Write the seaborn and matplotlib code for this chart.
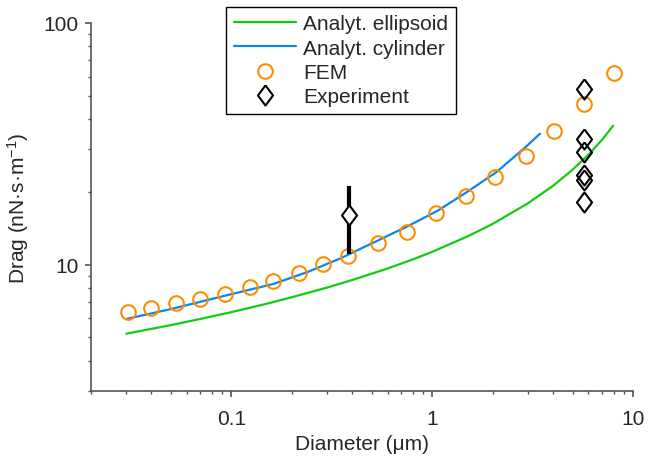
import numpy as np
import pandas as pd
import matplotlib
matplotlib.use("Agg")
import matplotlib.pyplot as plt
from matplotlib.ticker import NullFormatter, LogLocator
import seaborn as sns

# Data
ellipsoid_x = [0.030, 0.050, 0.070, 0.10, 0.15, 0.20, 0.30, 0.40, 0.60, 0.80,
               1.0, 1.5, 2.0, 3.0, 4.0, 5.0, 6.0, 7.0, 7.97]
ellipsoid_y = [5.18, 5.62, 5.96, 6.36, 6.89, 7.33, 8.04, 8.64, 9.64, 10.51,
               11.30, 13.09, 14.74, 17.95, 21.2, 24.7, 28.5, 32.8, 37.6]

cylinder_x = [0.030, 0.050, 0.100, 0.162, 0.240, 0.347, 0.501, 0.759, 1.072,
              1.486, 2.089, 2.931, 3.444]
cylinder_y = [5.96, 6.55, 7.55, 8.32, 9.33, 10.59, 12.25, 14.45, 16.77,
              19.95, 24.15, 30.76, 34.83]

fem_x = [0.0305, 0.0397, 0.0529, 0.0697, 0.0928, 0.124, 0.161, 0.217, 0.286,
         0.381, 0.538, 0.750, 1.05, 1.48, 2.06, 2.94, 4.06, 5.73, 8.0]
fem_y = [6.38, 6.64, 6.95, 7.22, 7.58, 8.11, 8.59, 9.27, 10.1,
         10.9, 12.3, 13.7, 16.3, 19.2, 23.0, 28.1, 35.6, 46.2, 62.1]

exp_x = [5.73, 5.73, 5.73, 5.73, 5.73, 5.73]
exp_y = [53.5, 33.2, 29.2, 23.4, 22.3, 18.1]

exp_bar_x = [0.384]
exp_bar_y = [16.1]
exp_bar_err = [5.0]

x_ticks = [0.1, 1, 10]
x_tick_labels = ["0.1", "1", "10"]
y_ticks = [10, 100]
y_tick_labels = ["10", "100"]

GREEN = "#12cc12"
BLUE = "#0c86e8"
ORANGE = "#ff8c00"

sns.set_style("ticks")
plt.rcParams["font.family"] = ["Liberation Sans", "DejaVu Sans"]
plt.rcParams["mathtext.default"] = "regular"
plt.rcParams["font.size"] = 15

diamond = [(0, 1), (0.75, 0), (0, -1), (-0.75, 0), (0, 1)]

fig = plt.figure(figsize=(6.53, 4.60), dpi=100)
ax = fig.add_axes([91 / 653, 1 - 392 / 460, (633 - 91) / 653, (392 - 24) / 460])

sns.lineplot(x=ellipsoid_x, y=ellipsoid_y, ax=ax, color=GREEN, linewidth=1.6,
             sort=False, estimator=None, label="Analyt. ellipsoid")
sns.lineplot(x=cylinder_x, y=cylinder_y, ax=ax, color=BLUE, linewidth=1.6,
             sort=False, estimator=None, label="Analyt. cylinder")
sns.lineplot(x=fem_x, y=fem_y, ax=ax, color=ORANGE, linestyle="", marker="o",
             markersize=10.5, markerfacecolor="none", markeredgecolor=ORANGE,
             markeredgewidth=1.5, sort=False, estimator=None, label="FEM")
ax.errorbar(exp_bar_x, exp_bar_y, yerr=exp_bar_err, fmt="none", ecolor="black",
            elinewidth=3, capsize=0, zorder=3)
ax.plot(exp_bar_x, exp_bar_y, linestyle="", marker=diamond, markersize=14.5,
        markerfacecolor="white", markeredgecolor="black", markeredgewidth=1.5,
        zorder=4)
sns.lineplot(x=exp_x, y=exp_y, ax=ax, color="black", linestyle="", marker=diamond,
             markersize=14.5, markerfacecolor="none", markeredgecolor="black",
             markeredgewidth=1.5, sort=False, estimator=None, label="Experiment",
             zorder=4)

ax.set_xscale("log")
ax.set_yscale("log")
ax.set_xlim(0.02, 10)
ax.set_ylim(3, 100)
ax.set_xticks(x_ticks, x_tick_labels)
ax.set_yticks(y_ticks, y_tick_labels)
ax.xaxis.set_minor_locator(LogLocator(base=10, subs=np.arange(2, 10)))
ax.yaxis.set_minor_locator(LogLocator(base=10, subs=np.arange(2, 10)))
ax.xaxis.set_minor_formatter(NullFormatter())
ax.yaxis.set_minor_formatter(NullFormatter())

sns.despine(ax=ax)
for side in ["left", "bottom"]:
    ax.spines[side].set_color("#555555")
    ax.spines[side].set_linewidth(1.2)
ax.tick_params(which="major", direction="out", length=4, width=1.2,
               color="#555555", labelsize=15)
ax.tick_params(which="minor", direction="out", length=2.5, width=1.0,
               color="#555555")
ax.tick_params(axis="x", which="major", pad=9)
ax.tick_params(axis="y", which="major", pad=5)

ax.set_xlabel("Diameter (μm)", fontsize=15, labelpad=4)
ax.set_ylabel("Drag (nN·s·m$^{-1}$)", fontsize=15, labelpad=9)

handles, labels = ax.get_legend_handles_labels()
leg = ax.legend(handles, labels, loc="upper left",
                bbox_to_anchor=(226 / 653, 1 - 8 / 460),
                bbox_transform=fig.transFigure, borderaxespad=0,
                fontsize=15, frameon=True, fancybox=False, framealpha=1,
                edgecolor="black", handlelength=3.0, handletextpad=0.35,
                labelspacing=0.25, borderpad=0.36, numpoints=1)
leg.get_frame().set_linewidth(1.0)

fig.savefig("out.png", dpi=100)
